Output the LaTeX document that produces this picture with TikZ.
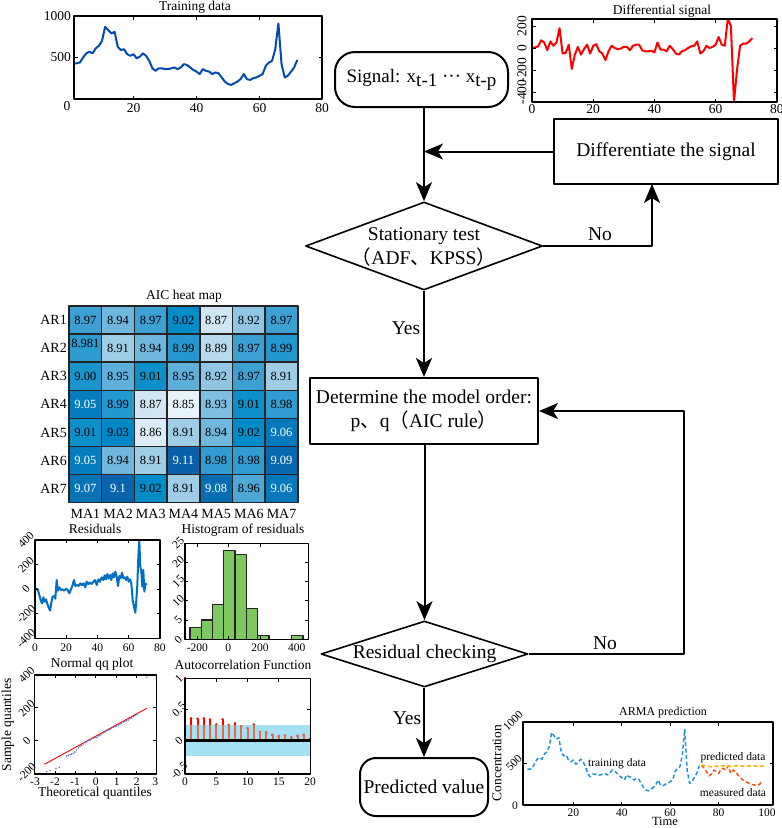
\documentclass[tikz,border=0pt]{standalone}
\usepackage{fontspec}
\setmainfont{Liberation Serif}
\newfontfamily\cjk{Noto Sans CJK SC}
\usetikzlibrary{arrows.meta,shapes.geometric}
\newcommand\myfs[1]{\fontsize{#1}{#1}\selectfont}
\definecolor{trainblue}{RGB}{0,75,175}
\definecolor{resblue}{RGB}{0,110,195}
\definecolor{armablue}{RGB}{30,150,215}
\definecolor{predorange}{RGB}{245,175,0}
\definecolor{measorange}{RGB}{238,90,20}
\definecolor{histgreen}{RGB}{125,200,95}
\definecolor{bandblue}{RGB}{165,225,245}
\definecolor{stemorange}{RGB}{225,110,75}
\definecolor{qqblue}{RGB}{60,90,210}
\definecolor{hmA}{RGB}{232,242,249}
\definecolor{hmB}{RGB}{160,205,230}
\definecolor{hmC}{RGB}{60,160,210}
\definecolor{hmD}{RGB}{0,140,200}
\definecolor{hmE}{RGB}{10,95,170}
\definecolor{gridgray}{RGB}{35,35,35}
\newcommand\hmcolor[1]{%
 \ifdim #1pt<8.91pt \pgfmathtruncatemacro\hmp{max(0,(#1-8.85)/0.06*100)}\colorlet{cc}{hmB!\hmp!hmA}%
 \else\ifdim #1pt<8.97pt \pgfmathtruncatemacro\hmp{(#1-8.91)/0.06*100}\colorlet{cc}{hmC!\hmp!hmB}%
 \else\ifdim #1pt<9.02pt \pgfmathtruncatemacro\hmp{(#1-8.97)/0.05*100}\colorlet{cc}{hmD!\hmp!hmC}%
 \else \pgfmathtruncatemacro\hmp{min(100,(#1-9.02)/0.09*100)}\colorlet{cc}{hmE!\hmp!hmD}%
 \fi\fi\fi}
\begin{document}
\begin{tikzpicture}[x=1pt,y=-1pt,line join=round,
  frame/.style={draw=black,line width=1.6pt},
  ticksty/.style={line width=0.7pt},
  fbox/.style={draw,line width=2pt},
  arr/.style={line width=2pt,-{Stealth[length=19pt,width=16pt,inset=5pt]}},
  flowtext/.style={font=\fontsize{19.5}{24}\selectfont},
  plottitle/.style={font=\myfs{13.5},inner sep=0pt},
  ticklab/.style={font=\myfs{13.5},inner sep=0pt},
  smlab/.style={font=\myfs{11.5},inner sep=0pt},
]
\useasboundingbox (0,0) rectangle (782,828);

% ================= Training data =================
\node[plottitle] (t1) at (195,7) {Training data};
\begin{scope}[shift={(70.5,99)},xscale=3.15,yscale=-0.083]
\draw[trainblue,line width=2pt] plot coordinates {(1,430) (2,430) (3,440) (4,500) (5,550) (6,570) (7,550) (8,610) (9,640) (10,700) (11,870) (12,830) (13,790) (14,810) (15,630) (16,590) (17,600) (18,540) (19,520) (20,540) (21,490) (22,510) (23,550) (24,520) (25,460) (26,370) (27,340) (28,370) (29,370) (30,360) (31,360) (32,370) (33,380) (34,360) (35,380) (36,420) (37,410) (38,380) (39,350) (40,330) (41,300) (42,360) (43,340) (44,330) (45,300) (46,320) (47,310) (48,260) (49,210) (50,180) (51,170) (52,190) (53,210) (54,240) (55,300) (56,240) (57,230) (58,250) (59,260) (60,280) (61,300) (62,400) (63,440) (64,460) (65,600) (66,910) (67,420) (68,260) (69,280) (70,330) (71,380) (72,470)};
\end{scope}
\draw[frame] (74,16) rectangle (322,99);
\foreach \t in {20,40,60}{\draw[ticksty] ({70.5+3.15*\t},99) -- ++(0,-3.5) ({70.5+3.15*\t},16) -- ++(0,3.5);}
\draw[ticksty] (74,57.5) -- ++(3.5,0) (322,57.5) -- ++(-3.5,0);
\node[ticklab,anchor=east] (t1ya) at (71,16) {1000};
\node[ticklab,anchor=east] (t1yb) at (71,57.5) {500};
\node[ticklab] (t1yc) at (67,106) {0};
\foreach \t in {20,40,60}{\node[ticklab] (t1x\t) at ({70.5+3.15*\t},108) {\t};}
\node[ticklab] (t1x80) at (322,108) {80};

% ================= Differential signal =================
\node[plottitle] (t2) at (662,11) {Differential signal};
\begin{scope}
\clip (532,19) rectangle (777,102);
\begin{scope}[shift={(532,48)},xscale=3.06,yscale=-0.11]
\draw[red,line width=2pt] plot coordinates {(0,0) (1,5) (2,15) (3,70) (4,50) (5,-20) (6,60) (7,20) (8,50) (9,180) (10,-50) (11,-45) (12,30) (13,-190) (14,-60) (15,10) (16,-60) (17,-10) (18,30) (19,-50) (20,20) (21,35) (22,-30) (23,-50) (24,-110) (25,-30) (26,20) (27,0) (28,-10) (29,-5) (30,10) (31,10) (32,-20) (33,20) (34,30) (35,30) (36,-20) (37,-30) (38,-30) (39,-25) (40,-40) (41,50) (42,-15) (43,-15) (44,-30) (45,20) (46,-10) (47,-50) (48,-60) (49,-30) (50,-20) (51,0) (52,15) (53,20) (54,60) (55,-50) (56,-30) (57,20) (58,0) (59,10) (60,30) (61,100) (62,30) (63,20) (64,270) (65,200) (66,-490) (67,-200) (68,20) (69,40) (70,40) (71,60) (72,90)};
\end{scope}
\end{scope}
\draw[frame] (532,19) rectangle (777,102);
\foreach \t in {20,40,60}{\draw[ticksty] ({532+3.06*\t},102) -- ++(0,-3.5) ({532+3.06*\t},19) -- ++(0,3.5);}
\foreach \yy in {26,48,70,92}{\draw[ticksty] (532,\yy) -- ++(3.5,0) (777,\yy) -- ++(-3.5,0);}
\foreach \v/\yy [count=\k] in {200/26,0/48,-200/70,-400/92}{\node[ticklab,rotate=90] (t2y\k) at (522,\yy) {\v};}
\foreach \t [count=\k] in {0,20,40,60,80}{\node[ticklab] (t2x\k) at ({532+3.06*\t},109) {\t};}

% ================= AIC heat map =================
\node[plottitle] (t3) at (184,296) {AIC heat map};
\foreach \row [count=\r] in {{8.97,8.94,8.97,9.02,8.87,8.92,8.97},{8.981,8.91,8.94,8.99,8.89,8.97,8.99},{9.00,8.95,9.01,8.95,8.92,8.97,8.91},{9.05,8.99,8.87,8.85,8.93,9.01,8.98},{9.01,9.03,8.86,8.91,8.94,9.02,9.06},{9.05,8.94,8.91,9.11,8.98,8.98,9.09},{9.07,9.1,9.02,8.91,9.08,8.96,9.06}}{
  \node[font=\myfs{14},anchor=east,inner sep=0pt] (ar\r) at (67,{306+28.1*\r-14.05}) {AR\r};
  \foreach \v [count=\c] in \row {
    \hmcolor{\v}
    \ifdim\v pt<9.045pt \def\tc{black}\else\def\tc{white}\fi
    \ifdim\v pt=8.981pt \def\dy{-5}\else\def\dy{0}\fi
    \draw[draw=gridgray,line width=1.5pt,fill=cc] ({69+32.7*\c-32.7},{306+28.1*\r-28.1}) rectangle ++(32.7,28.1);
    \node[font=\myfs{12.5},text=\tc,inner sep=0pt] (hm\r\c) at ({69+32.7*\c-16.35},{306+28.1*\r-14.05+\dy}) {\v};
  }
}
\foreach \c in {1,...,7}{\node[font=\myfs{14},inner sep=0pt] (ma\c) at ({69+32.7*\c-16.35},514) {MA\c};}

% ================= Residuals =================
\node[plottitle] (t4) at (95,529) {Residuals};
\begin{scope}[shift={(0,500)},scale=1/3]
\draw[resblue,line width=2pt] plot coordinates {(108,265) (113,268) (118,285) (122,300) (126,310) (130,292) (134,305) (138,298) (142,312) (146,322) (150,332) (154,308) (158,290) (162,288) (166,296) (170,240) (174,272) (178,262) (183,270) (188,268) (193,272) (198,266) (203,270) (208,280) (213,268) (218,255) (222,240) (226,258) (231,255) (236,258) (241,250) (246,256) (251,250) (256,262) (260,245) (265,252) (270,248) (275,252) (280,246) (285,240) (290,255) (295,238) (300,245) (305,232) (310,240) (314,226) (318,238) (322,222) (326,236) (330,225) (334,240) (338,220) (342,232) (346,215) (350,230) (354,258) (358,228) (362,235) (366,218) (370,235) (374,232) (378,240) (382,230) (386,245) (390,238) (394,250) (398,300) (402,320) (406,338) (409,300) (412,255) (415,170) (418,122) (421,200) (424,215) (427,260) (430,210) (433,275) (436,250) (440,255)};
\draw[frame] (105,120) rectangle (480,415);
\foreach \t in {20,40,60}{\draw[ticksty] ({105+4.6875*\t},415) -- ++(0,-10) ({105+4.6875*\t},120) -- ++(0,10);}
\foreach \yy in {193.75,267.5,341.25}{\draw[ticksty] (105,\yy) -- ++(10,0) (480,\yy) -- ++(-10,0);}
\foreach \v/\yy [count=\k] in {400/120,200/193.75,0/267.5,-200/341.25,-400/415}{\node[smlab,rotate=45] (r4y\k) at (78,\yy) {\v};}
\foreach \t [count=\k] in {0,20,40,60,80}{\node[smlab] (r4x\k) at ({105+4.6875*\t},443) {\t};}
\end{scope}

% ================= Histogram =================
\node[plottitle] (t5) at (243,530) {Histogram of residuals};
\begin{scope}[shift={(160,520)},scale=1/3]
\foreach \a/\b/\n in {90/124/3,124/157/5,157/191/9,191/225/23,225/259/22,259/293/8,293/327/1,395/429/1}{
  \draw[fill=histgreen,draw=gridgray,line width=1.4pt] (\a,358) rectangle (\b,{358-11.6*\n});}
\draw[frame] (75,70) rectangle (445,358);
\foreach \n in {5,10,15,20}{\draw[ticksty] (75,{358-11.6*\n}) -- ++(10,0) (445,{358-11.6*\n}) -- ++(-10,0);}
\foreach \x in {112,205,300}{\draw[ticksty] (\x,358) -- ++(0,-10) (\x,70) -- ++(0,10);}
\foreach \n [count=\k] in {25,20,15,10,5,0}{\node[smlab,rotate=45] (h5y\k) at (55,{358-11.6*\n}) {\n};}
\foreach \v/\x [count=\k] in {-200/112,0/205,200/300,400/410}{\node[smlab] (h5x\k) at (\x,382) {\v};}
\end{scope}

% ================= Normal qq plot =================
\node[plottitle] (t7) at (92,664) {Normal qq plot};
\begin{scope}[shift={(0,650)},scale=1/3]
\draw[red,line width=0.9pt] (133,343) -- (440,175);
\foreach \x/\y in {140/365,150/362,168/355,178/352,200/318,205/316,210/314,215/312,220/310,225/306,230/300,235/294,240/290,245/286,250/282,255/278,260/276,265/272,270/270,275/266,280/264,285/262,290/262,295/258,300/256,305/252,310/248,315/246,320/242,325/240,330/238,335/234,340/232,345/230,350/228,355/226,360/222,365/220,370/216,375/214,380/212,385/210,390/206,395/204,400/200,405/196,410/194,440/82}{\fill[qqblue] (\x,\y) circle (2.4);}
\draw[frame] (103,75) rectangle (470,372);
\foreach \yy in {172,272}{\draw[ticksty] (103,\yy) -- ++(10,0) (470,\yy) -- ++(-10,0);}
\foreach \x in {165,225,287,350,410}{\draw[ticksty] (\x,372) -- ++(0,-10) (\x,75) -- ++(0,10);}
\foreach \v/\yy [count=\k] in {400/75,200/175,0/272,-200/366}{\node[smlab,rotate=45] (q7y\k) at (80,\yy) {\v};}
\foreach \v/\x [count=\k] in {-3/105,-2/165,-1/225,0/287,1/350,2/410,3/466}{\node[smlab] (q7x\k) at (\x,395) {\v};}
\end{scope}
\node[font=\myfs{13.5},rotate=90,inner sep=0pt] (q7yl) at (8,725) {Sample quantiles};
\node[font=\myfs{13.5},inner sep=0pt] (q7xl) at (95,793) {Theoretical quantiles};

% ================= Autocorrelation =================
\node[plottitle] (t6) at (243,665) {Autocorrelation Function};
\begin{scope}[shift={(160,650)},scale=1/3]
\fill[bandblue] (75,225) rectangle (452,318);
\foreach \v [count=\k from 0] in {1,0.36,0.35,0.36,0.34,0.26,0.34,0.25,0.28,0.23,0.20,0.26,0.14,0.13,0.09,0.07,0.085,0.05,0.075,0.09,0.03}{
  \draw[red,line width=2pt] ({75+18.75*\k},272) -- ({75+18.75*\k},{272-188*\v});
  \fill[red] ({75+18.75*\k},{272-188*\v}) circle (4);}
\begin{scope}
\clip (76,225) rectangle (452,318);
\foreach \v [count=\k] in {0.36,0.35,0.36,0.34,0.26,0.34,0.25,0.28,0.23,0.20,0.26,0.14,0.13,0.09,0.07,0.085,0.05,0.075,0.09,0.03}{
  \draw[stemorange,line width=2pt] ({75+18.75*\k},272) -- ({75+18.75*\k},{272-188*\v});
  \fill[stemorange] ({75+18.75*\k},{272-188*\v}) circle (4);}
\end{scope}
\draw[line width=2.6pt] (75,272) -- (452,272);
\draw[frame] (75,85) rectangle (452,372);
\foreach \x in {168.75,262.5,356.25}{\draw[ticksty] (\x,372) -- ++(0,-10) (\x,85) -- ++(0,10);}
\draw[ticksty] (75,178) -- ++(10,0) (452,178) -- ++(-10,0);
\foreach \v/\yy [count=\k] in {1/85,0.5/178,0/272,-0.5/362}{\node[smlab,rotate=45] (a6y\k) at (57,\yy) {\v};}
\foreach \v [count=\k from 0] in {0,5,10,15,20}{\node[smlab] (a6x\k) at ({75+93.75*\k},395) {\v};}
\end{scope}

% ================= ARMA prediction =================
\node[font=\myfs{12},inner sep=0pt] (t8) at (663,713) {ARMA prediction};
\begin{scope}[shift={(525,805)},xscale=2.42,yscale=-0.0833]
\draw[armablue,line width=1.5pt,dash pattern=on 4pt off 2.5pt] plot coordinates {(1,430) (2,430) (3,440) (4,500) (5,550) (6,570) (7,550) (8,610) (9,640) (10,700) (11,870) (12,830) (13,790) (14,810) (15,630) (16,590) (17,600) (18,540) (19,520) (20,540) (21,490) (22,510) (23,550) (24,520) (25,460) (26,370) (27,340) (28,370) (29,370) (30,360) (31,360) (32,370) (33,380) (34,360) (35,380) (36,420) (37,410) (38,380) (39,350) (40,330) (41,300) (42,360) (43,340) (44,330) (45,300) (46,320) (47,310) (48,260) (49,210) (50,180) (51,170) (52,190) (53,210) (54,240) (55,300) (56,240) (57,230) (58,250) (59,260) (60,280) (61,300) (62,400) (63,440) (64,460) (65,600) (66,910) (67,420) (68,260) (69,280) (70,330) (71,380) (72,470)};
\draw[measorange,line width=1.5pt,dash pattern=on 4pt off 2.5pt] plot coordinates {(73,480) (75,400) (76,350) (77,370) (78,420) (79,400) (80,380) (81,430) (82,440) (83,420) (84,470) (85,380) (86,420) (87,400) (88,360) (89,330) (90,300) (91,280) (92,270) (93,250) (94,245) (95,240) (96,235) (97,250) (98,290)};
\draw[predorange,line width=1.5pt,dash pattern=on 4pt off 2.5pt] plot coordinates {(73,480) (75,470) (77,458) (79,465) (81,470) (83,468) (85,462) (87,470) (89,468) (91,466) (93,470) (95,468) (97,468) (99,468)};
\end{scope}
\draw[frame] (523,722) rectangle (773,805);
\foreach \t in {20,40,60,80}{\draw[ticksty] ({525+2.42*\t},805) -- ++(0,-3.5) ({525+2.42*\t},722) -- ++(0,3.5);}
\draw[ticksty] (523,763.4) -- ++(3.5,0) (773,763.4) -- ++(-3.5,0);
\node[smlab,rotate=45] (a8ya) at (513,721) {1000};
\node[smlab,rotate=45] (a8yb) at (514,763) {500};
\node[smlab] (a8yc) at (515,806) {0};
\foreach \t [count=\k] in {20,40,60,80,100}{\node[smlab] (a8x\k) at ({525+2.42*\t},813) {\t};}
\node[font=\myfs{13.5},rotate=90,inner sep=0pt] (a8yl) at (497,763) {Concentration};
\node[font=\myfs{12.5},inner sep=0pt] (a8xl) at (665,821) {Time};
\node[font=\myfs{11.5},inner sep=0pt] (lbtr) at (617,764) {training data};
\node[font=\myfs{11.5},inner sep=0pt] (lbpr) at (733,758) {predicted data};
\node[font=\myfs{11.5},inner sep=0pt] (lbme) at (733,793) {measured data};

% ================= Flowchart =================
\node[fbox,rounded corners=20pt,minimum width=173pt,minimum height=55pt,inner sep=2pt,font=\myfs{19}] (sig) at (421.5,79.5) {Signal: x\raisebox{-4pt}{t-1} ··· x\raisebox{-4pt}{t-p}};
\node[fbox,minimum width=224pt,minimum height=65pt,flowtext] (diff) at (666,151.5) {Differentiate the signal};
\node[draw,diamond,line width=1.6pt,minimum width=237pt,minimum height=88pt,inner sep=0pt] (st) at (424,246) {};
\node[flowtext,align=center,inner sep=0pt] (stt) at (424,247) {Stationary test\\{\cjk （}ADF{\cjk 、}KPSS{\cjk ）}};
\node[fbox,minimum width=228pt,minimum height=66pt,inner sep=2pt,flowtext,align=center] (det) at (424,411) {Determine the model order:\\p{\cjk 、}q{\cjk （}AIC rule{\cjk ）}};
\node[draw,diamond,line width=1.6pt,minimum width=207pt,minimum height=66pt,inner sep=0pt] (rc) at (424.5,654) {};
\node[flowtext,inner sep=0pt] (rct) at (424.5,654) {Residual checking};
\node[fbox,rounded corners=16pt,minimum width=128pt,minimum height=58pt,inner sep=1pt,flowtext] (pv) at (424,787) {Predicted value};
\coordinate (dj) at (652,184);
\coordinate (rj) at (684,654);

\draw[arr] (sig.south -| st.north) -- (st.north);
\draw[arr] (diff.west) -- (diff.west -| st.north);
\draw[arr] (st.east) -| (dj);
\node[flowtext] (no1) at (600,234) {No};
\draw[arr] (st.south) -- (st.south |- det.north);
\node[flowtext] (yes1) at (406,328) {Yes};
\draw[arr] (det.south -| rc.north) -- (rc.north);
\draw[arr] (rc.east) -- (rj) |- (det.east);
\node[flowtext] (no2) at (605,643) {No};
\draw[arr] (rc.south -| pv.north) -- (pv.north);
\node[flowtext] (yes2) at (407,718) {Yes};
\end{tikzpicture}
\end{document}
